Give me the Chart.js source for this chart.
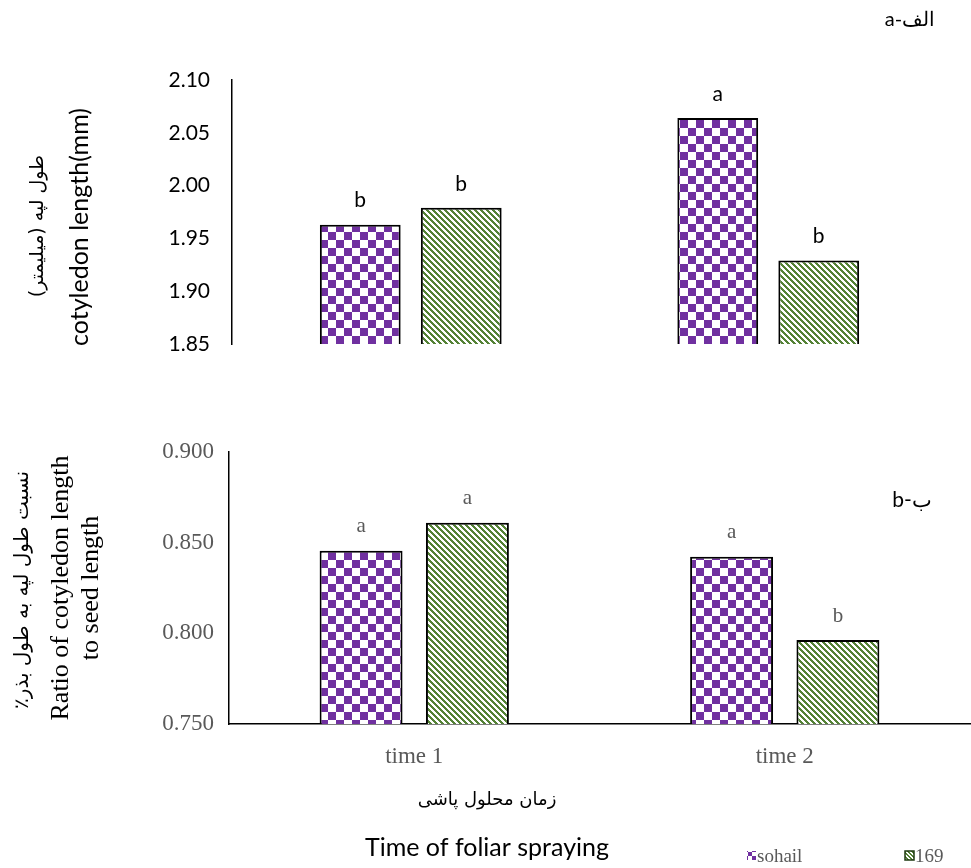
<!DOCTYPE html>
<html><head><meta charset="utf-8">
<script src="https://cdn.jsdelivr.net/npm/chart.js@4/dist/chart.umd.min.js"></script>
<style>
html,body{margin:0;padding:0;background:#fff;}
#wrap{position:relative;width:971px;height:868px;overflow:hidden;}
canvas{position:absolute;left:0;top:0;}
</style></head><body>
<div id="wrap">
<canvas id="c1" width="971" height="868"></canvas>
<canvas id="c2" width="971" height="868"></canvas>
</div>
<script>
// ---------------- data ----------------
const categories = ['time 1', 'time 2'];
const seriesNames = ['sohail', '169'];
// panel a: cotyledon length (mm)
const lengthSohail = [1.963, 2.064];
const length169 = [1.979, 1.929];
const lengthLettersSohail = ['b', 'a'];
const lengthLetters169 = ['b', 'b'];
const lengthTicks = [1.85, 1.90, 1.95, 2.00, 2.05, 2.10];
// panel b: ratio of cotyledon length to seed length
const ratioSohail = [0.8456, 0.8423];
const ratio169 = [0.861, 0.7963];
const ratioLettersSohail = ['a', 'a'];
const ratioLetters169 = ['a', 'b'];
const ratioTicks = [0.750, 0.800, 0.850, 0.900];
// texts
const panelALabel = 'a-الف';
const panelBLabel = 'b-ب';
const yTitleA = ['طول لپه (میلیمتر)', 'cotyledon length(mm)'];
const yTitleB = ['نسبت طول لپه به طول بذر٪', 'Ratio of cotyledon length', 'to seed length'];
const xTitle = ['زمان محلول پاشی', 'Time of foliar spraying'];

// ---------------- patterns ----------------
const PURPLE = '#7030A0', GREEN = '#548235';
function makeChecker(color, cell) {
  const c = document.createElement('canvas'); c.width = c.height = cell * 2;
  const g = c.getContext('2d');
  g.fillStyle = '#fff'; g.fillRect(0, 0, cell * 2, cell * 2);
  g.fillStyle = color; g.fillRect(0, 0, cell, cell); g.fillRect(cell, cell, cell, cell);
  return g.createPattern(c, 'repeat');
}
function makeDiag(rgb, n, w) {
  const c = document.createElement('canvas'); c.width = c.height = n;
  const g = c.getContext('2d');
  const img = g.createImageData(n, n);
  for (let y = 0; y < n; y++) for (let x = 0; x < n; x++) {
    const k = (((x - y) % n) + n) % n;
    const i = (y * n + x) * 4;
    const on = k < w;
    img.data[i] = on ? rgb[0] : 255; img.data[i + 1] = on ? rgb[1] : 255; img.data[i + 2] = on ? rgb[2] : 255; img.data[i + 3] = 255;
  }
  g.putImageData(img, 0, 0);
  return g.createPattern(c, 'repeat');
}
const checkPat = makeChecker(PURPLE, 8);
const diagPat = makeDiag([84, 130, 53], 6, 3);
const checkPatSmall = makeChecker(PURPLE, 4);
const diagPatSmall = makeDiag([84, 130, 53], 4, 2);

// ---------------- plugins ----------------
const letterPlugin = {
  id: 'letters',
  afterDatasetsDraw(chart, args, opts) {
    const ctx = chart.ctx; ctx.save();
    ctx.font = opts.font; ctx.fillStyle = opts.color;
    ctx.textAlign = 'center'; ctx.textBaseline = 'middle';
    chart.data.datasets.forEach((ds, i) => {
      chart.getDatasetMeta(i).data.forEach((bar, j) => {
        ctx.fillText(opts.letters[i][j], bar.x, bar.y - opts.offset);
      });
    });
    ctx.restore();
  }
};
const textPlugin = {
  id: 'texts',
  afterDraw(chart, args, opts) {
    const ctx = chart.ctx;
    (opts.items || []).forEach(it => {
      ctx.save();
      ctx.translate(it.x, it.y);
      if (it.rot) ctx.rotate(it.rot);
      ctx.font = it.font; ctx.fillStyle = it.color || '#000';
      ctx.textAlign = 'center'; ctx.textBaseline = 'middle';
      ctx.direction = it.rtl ? 'rtl' : 'ltr';
      ctx.fillText(it.text, 0, 0);
      ctx.restore();
    });
  }
};
const legendPlugin = {
  id: 'customLegend',
  afterDraw(chart, args, opts) {
    const ctx = chart.ctx; ctx.save();
    ctx.font = opts.font; ctx.textBaseline = 'alphabetic'; ctx.textAlign = 'left';
    chart.data.datasets.forEach((ds, i) => {
      const p = opts.pos[i];
      ctx.fillStyle = opts.icons[i];
      ctx.fillRect(p.x, p.y, 9, 9);
      if (i === 1) { ctx.strokeStyle = '#1e3a10'; ctx.lineWidth = 1.5; ctx.strokeRect(p.x, p.y, 9, 9); }
      ctx.fillStyle = opts.color;
      ctx.fillText(ds.label, p.x + 10, p.y + 11);
    });
    ctx.restore();
  }
};

const fixTicks = arr => s => { s.ticks = arr.map(v => ({ value: v })); };

// ---------------- chart a ----------------
new Chart(document.getElementById('c1'), {
  type: 'bar',
  data: {
    labels: categories,
    datasets: [
      { label: seriesNames[0], data: lengthSohail, backgroundColor: checkPat, borderColor: '#000', borderWidth: 2, borderSkipped: false },
      { label: seriesNames[1], data: length169, backgroundColor: diagPat, borderColor: '#000', borderWidth: 2, borderSkipped: false }
    ]
  },
  options: {
    responsive: false, animation: false, events: [],
    layout: { padding: { top: 80, bottom: 524, left: 0, right: 24 } },
    datasets: { bar: { categoryPercentage: 0.565, barPercentage: 0.8 } },
    plugins: {
      legend: { display: false }, tooltip: { enabled: false },
      letters: { font: '21px Lato', color: '#000', offset: 24, letters: [lengthLettersSohail, lengthLetters169] },
      texts: { items: [
        { text: panelALabel, x: 910, y: 20, font: '20px Lato' },
        { text: yTitleA[0], x: 38, y: 226, rot: -Math.PI / 2, font: '19px "DejaVu Sans"', rtl: true },
        { text: yTitleA[1], x: 80, y: 227, rot: -Math.PI / 2, font: '25px Lato' }
      ] }
    },
    scales: {
      x: { display: false },
      y: {
        min: lengthTicks[0], max: lengthTicks[lengthTicks.length - 1],
        afterBuildTicks: fixTicks(lengthTicks),
        afterFit: s => { s.width = 232; },
        grid: { display: false, drawTicks: false },
        border: { display: true, color: '#000', width: 1.5 },
        ticks: { padding: 22, color: '#000', font: { family: 'Lato', size: 21 }, callback: v => Number(v).toFixed(2) }
      }
    }
  },
  plugins: [letterPlugin, textPlugin]
});

// ---------------- chart b ----------------
new Chart(document.getElementById('c2'), {
  type: 'bar',
  data: {
    labels: categories,
    datasets: [
      { label: seriesNames[0], data: ratioSohail, backgroundColor: checkPat, borderColor: '#000', borderWidth: 2, borderSkipped: false },
      { label: seriesNames[1], data: ratio169, backgroundColor: diagPat, borderColor: '#000', borderWidth: 2, borderSkipped: false }
    ]
  },
  options: {
    responsive: false, animation: false, events: [],
    layout: { padding: { top: 452, bottom: 0, left: 0, right: 1 } },
    datasets: { bar: { categoryPercentage: 0.574, barPercentage: 0.78 } },
    plugins: {
      legend: { display: false }, tooltip: { enabled: false },
      letters: { font: '21px "Liberation Serif"', color: '#595959', offset: 24, letters: [ratioLettersSohail, ratioLetters169] },
      texts: { items: [
        { text: panelBLabel, x: 912, y: 500, font: '21px Lato' },
        { text: yTitleB[0], x: 23, y: 590, rot: -Math.PI / 2, font: '20px "DejaVu Sans"', rtl: true },
        { text: yTitleB[1], x: 61, y: 588, rot: -Math.PI / 2, font: '26px "Liberation Serif"' },
        { text: yTitleB[2], x: 91, y: 588, rot: -Math.PI / 2, font: '26px "Liberation Serif"' },
        { text: xTitle[0], x: 487, y: 800, font: '18px "DejaVu Sans"', rtl: true },
        { text: xTitle[1], x: 487, y: 848, font: '25px Lato' }
      ] },
      customLegend: { font: '19px "Liberation Serif"', color: '#595959', icons: [checkPatSmall, diagPatSmall], pos: [{ x: 747, y: 851 }, { x: 905, y: 851 }] }
    },
    scales: {
      x: {
        afterFit: s => { s.height = 144; },
        grid: { display: false, drawTicks: false },
        border: { display: true, color: '#000', width: 1.5 },
        ticks: { padding: 19, color: '#595959', font: { family: 'Liberation Serif', size: 23 } }
      },
      y: {
        min: ratioTicks[0], max: ratioTicks[ratioTicks.length - 1],
        afterBuildTicks: fixTicks(ratioTicks),
        afterFit: s => { s.width = 229; },
        grid: { display: false, drawTicks: false },
        border: { display: true, color: '#000', width: 1.5 },
        ticks: { padding: 15, color: '#595959', font: { family: 'Liberation Serif', size: 23 }, callback: v => Number(v).toFixed(3) }
      }
    }
  },
  plugins: [letterPlugin, textPlugin, legendPlugin]
});
</script>
</body></html>
